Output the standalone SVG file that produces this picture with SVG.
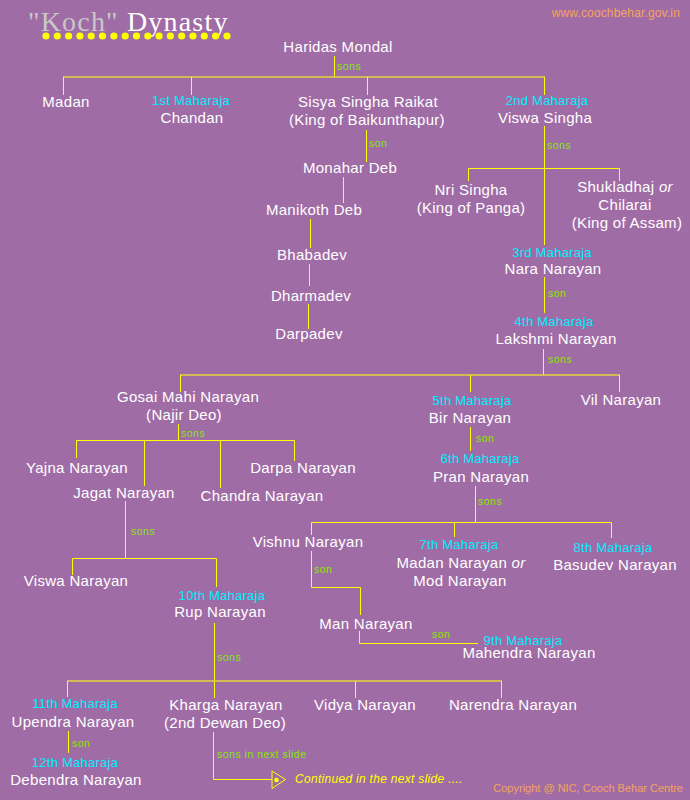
<svg xmlns="http://www.w3.org/2000/svg" width="690" height="800" viewBox="0 0 690 800">
<defs>
<style>
.bg{fill:#a06ca6}
.n{font-family:"Liberation Sans",Arial,sans-serif;font-size:15px;letter-spacing:0.3px;fill:#ffffff;text-anchor:middle}
.m{font-family:"Liberation Sans",Arial,sans-serif;font-size:13px;letter-spacing:0.25px;fill:#00eeff;text-anchor:middle}
.s{font-family:"Liberation Sans",Arial,sans-serif;font-size:10.5px;letter-spacing:0.5px;fill:#88e800}
.v{stroke:#ffff00;stroke-width:1;fill:none}
.h{stroke:#e8d23a;stroke-width:1.6;fill:none}
.web{font-family:"Liberation Sans",Arial,sans-serif;fill:#f4a45a}
</style>
</defs>
<rect class="bg" x="0" y="0" width="690" height="800"/>

<g id="title">
<text x="28" y="31" font-family="'Liberation Serif','Times New Roman',serif" font-size="28" letter-spacing="1.2"><tspan fill="#c8c8c8">"Koch"</tspan><tspan fill="#ffffff"> Dynasty</tspan></text>
<g fill="#ffff00">
<circle cx="46" cy="36" r="3.6"/><circle cx="57.3" cy="36" r="3.6"/><circle cx="68.6" cy="36" r="3.6"/><circle cx="79.9" cy="36" r="3.6"/><circle cx="91.2" cy="36" r="3.6"/><circle cx="102.5" cy="36" r="3.6"/><circle cx="113.9" cy="36" r="3.6"/><circle cx="125.2" cy="36" r="3.6"/><circle cx="136.5" cy="36" r="3.6"/><circle cx="147.8" cy="36" r="3.6"/><circle cx="159.1" cy="36" r="3.6"/><circle cx="170.4" cy="36" r="3.6"/><circle cx="181.7" cy="36" r="3.6"/><circle cx="193" cy="36" r="3.6"/><circle cx="204.3" cy="36" r="3.6"/><circle cx="215.6" cy="36" r="3.6"/><circle cx="227" cy="36" r="3.6"/>
</g>
</g>
<text class="web" x="680" y="17" font-size="12" letter-spacing="0.15" text-anchor="end">www.coochbehar.gov.in</text>

<g id="connectors">
<line class="v" x1="334.5" y1="56" x2="334.5" y2="77"/>
<line class="h" x1="63" y1="77" x2="545" y2="77"/>
<line class="v" x1="63.5" y1="77" x2="63.5" y2="95"/>
<line class="v" x1="191.5" y1="77" x2="191.5" y2="95"/>
<line class="v" x1="367.5" y1="77" x2="367.5" y2="95"/>
<line class="v" x1="544.5" y1="77" x2="544.5" y2="95"/>
<line class="v" x1="366.5" y1="130" x2="366.5" y2="162"/>
<line class="v" x1="343.5" y1="177" x2="343.5" y2="203"/>
<line class="v" x1="310.5" y1="219" x2="310.5" y2="248"/>
<line class="v" x1="309.5" y1="264" x2="309.5" y2="286"/>
<line class="v" x1="308.5" y1="304" x2="308.5" y2="329"/>
<line class="v" x1="544.5" y1="126" x2="544.5" y2="245"/>
<polyline class="v" points="468.5,181 468.5,168.5 619.5,168.5 619.5,181"/>
<line class="v" x1="544.5" y1="277" x2="544.5" y2="313"/>
<line class="v" x1="543.5" y1="349" x2="543.5" y2="375"/>
<line class="h" x1="180" y1="375" x2="620" y2="375"/>
<line class="v" x1="180.5" y1="375" x2="180.5" y2="392"/>
<line class="v" x1="470.5" y1="375" x2="470.5" y2="392"/>
<line class="v" x1="619.5" y1="375" x2="619.5" y2="392"/>
<line class="v" x1="178.5" y1="424" x2="178.5" y2="440"/>
<line class="v" x1="76" y1="440.5" x2="295" y2="440.5"/>
<line class="v" x1="76.5" y1="440" x2="76.5" y2="458"/>
<line class="v" x1="144.5" y1="440" x2="144.5" y2="486"/>
<line class="v" x1="220.5" y1="440" x2="220.5" y2="488"/>
<line class="v" x1="294.5" y1="440" x2="294.5" y2="461"/>
<line class="v" x1="125.5" y1="501" x2="125.5" y2="558"/>
<polyline class="v" points="72.5,575 72.5,558.5 216.5,558.5 216.5,587"/>
<line class="v" x1="470.5" y1="427" x2="470.5" y2="451"/>
<line class="v" x1="475.5" y1="486" x2="475.5" y2="522"/>
<polyline class="v" points="311.5,535 311.5,522.5 611.5,522.5 611.5,538"/>
<line class="v" x1="454.5" y1="522" x2="454.5" y2="537"/>
<polyline class="v" points="311.5,551 311.5,587.5 360.5,587.5 360.5,615"/>
<polyline class="v" points="359.5,631 359.5,643.5 478,643.5"/>
<line class="v" x1="214.5" y1="623" x2="214.5" y2="698"/>
<line class="h" x1="67" y1="681" x2="502" y2="681"/>
<line class="v" x1="67.5" y1="681" x2="67.5" y2="697"/>
<line class="v" x1="355.5" y1="681" x2="355.5" y2="698"/>
<line class="v" x1="501.5" y1="681" x2="501.5" y2="698"/>
<line class="v" x1="68.5" y1="731" x2="68.5" y2="753"/>
<polyline class="v" points="213.5,732 213.5,779.5 272,779.5"/>
<polygon points="272,771 285.5,779.5 272,788.5" fill="none" stroke="#ffff00" stroke-width="1"/>
<circle cx="276.5" cy="780" r="2.3" fill="#ffff00"/>
<text class="s" x="337" y="70">sons</text>
<text class="s" x="369" y="147">son</text>
<text class="s" x="547" y="149">sons</text>
<text class="s" x="548" y="297">son</text>
<text class="s" x="548" y="363">sons</text>
<text class="s" x="181" y="437">sons</text>
<text class="s" x="131" y="535">sons</text>
<text class="s" x="476" y="442">son</text>
<text class="s" x="478" y="505">sons</text>
<text class="s" x="314" y="573">son</text>
<text class="s" x="432" y="638">son</text>
<text class="s" x="217" y="661">sons</text>
<text class="s" x="72" y="747">son</text>
<text class="s" x="217" y="758">sons in next slide</text>
</g>

<g id="haridas"><text class="n" x="338" y="52">Haridas Mondal</text></g>
<g id="madan"><text class="n" x="66" y="107">Madan</text></g>
<g id="chandan"><text class="m" x="191" y="105">1st Maharaja</text><text class="n" x="192" y="123">Chandan</text></g>
<g id="sisya"><text class="n" x="368" y="107">Sisya Singha Raikat</text><text class="n" x="367" y="125">(King of Baikunthapur)</text></g>
<g id="viswa-singha"><text class="m" x="547" y="105">2nd Maharaja</text><text class="n" x="545" y="123">Viswa Singha</text></g>
<g id="monahar"><text class="n" x="350" y="173">Monahar Deb</text></g>
<g id="manikoth"><text class="n" x="314" y="215">Manikoth Deb</text></g>
<g id="bhabadev"><text class="n" x="312" y="260">Bhabadev</text></g>
<g id="dharmadev"><text class="n" x="311" y="301">Dharmadev</text></g>
<g id="darpadev"><text class="n" x="309" y="339">Darpadev</text></g>
<g id="nri"><text class="n" x="471" y="195">Nri Singha</text><text class="n" x="471" y="213">(King of Panga)</text></g>
<g id="shukladhaj"><text class="n" x="625" y="192">Shukladhaj <tspan font-style="italic">or</tspan></text><text class="n" x="625" y="210">Chilarai</text><text class="n" x="627" y="228">(King of Assam)</text></g>
<g id="nara"><text class="m" x="552" y="257">3rd Maharaja</text><text class="n" x="553" y="274">Nara Narayan</text></g>
<g id="lakshmi"><text class="m" x="554" y="326">4th Maharaja</text><text class="n" x="556" y="344">Lakshmi Narayan</text></g>
<g id="gosai"><text class="n" x="188" y="402">Gosai Mahi Narayan</text><text class="n" x="184" y="420">(Najir Deo)</text></g>
<g id="bir"><text class="m" x="472" y="405">5th Maharaja</text><text class="n" x="470" y="423">Bir Narayan</text></g>
<g id="vil"><text class="n" x="621" y="405">Vil Narayan</text></g>
<g id="yajna"><text class="n" x="77" y="473">Yajna Narayan</text></g>
<g id="jagat"><text class="n" x="124" y="498">Jagat Narayan</text></g>
<g id="chandra"><text class="n" x="262" y="501">Chandra Narayan</text></g>
<g id="darpa"><text class="n" x="303" y="473">Darpa Narayan</text></g>
<g id="pran"><text class="m" x="480" y="463">6th Maharaja</text><text class="n" x="481" y="482">Pran Narayan</text></g>
<g id="viswa-narayan"><text class="n" x="76" y="586">Viswa Narayan</text></g>
<g id="rup"><text class="m" x="222" y="600">10th Maharaja</text><text class="n" x="220" y="617">Rup Narayan</text></g>
<g id="vishnu"><text class="n" x="308" y="547">Vishnu Narayan</text></g>
<g id="madan-narayan"><text class="m" x="459" y="549">7th Maharaja</text><text class="n" x="461" y="568">Madan Narayan <tspan font-style="italic">or</tspan></text><text class="n" x="460" y="586">Mod Narayan</text></g>
<g id="basudev"><text class="m" x="613" y="552">8th Maharaja</text><text class="n" x="615" y="570">Basudev Narayan</text></g>
<g id="man"><text class="n" x="366" y="629">Man Narayan</text></g>
<g id="mahendra"><text class="m" x="523" y="645">9th Maharaja</text><text class="n" x="529" y="658">Mahendra Narayan</text></g>
<g id="upendra"><text class="m" x="75" y="708">11th Maharaja</text><text class="n" x="73" y="727">Upendra Narayan</text></g>
<g id="debendra"><text class="m" x="75" y="767">12th Maharaja</text><text class="n" x="76" y="785">Debendra Narayan</text></g>
<g id="kharga"><text class="n" x="226" y="710">Kharga Narayan</text><text class="n" x="225" y="728">(2nd Dewan Deo)</text></g>
<g id="vidya"><text class="n" x="365" y="710">Vidya Narayan</text></g>
<g id="narendra"><text class="n" x="513" y="710">Narendra Narayan</text></g>

<text x="295" y="783" font-family="'Liberation Sans',Arial,sans-serif" font-size="12" font-style="italic" letter-spacing="0.3" fill="#ffff00">Continued in the next slide ....</text>
<text class="web" x="683" y="792" font-size="11" text-anchor="end">Copyright @ NIC, Cooch Behar Centre</text>
</svg>
